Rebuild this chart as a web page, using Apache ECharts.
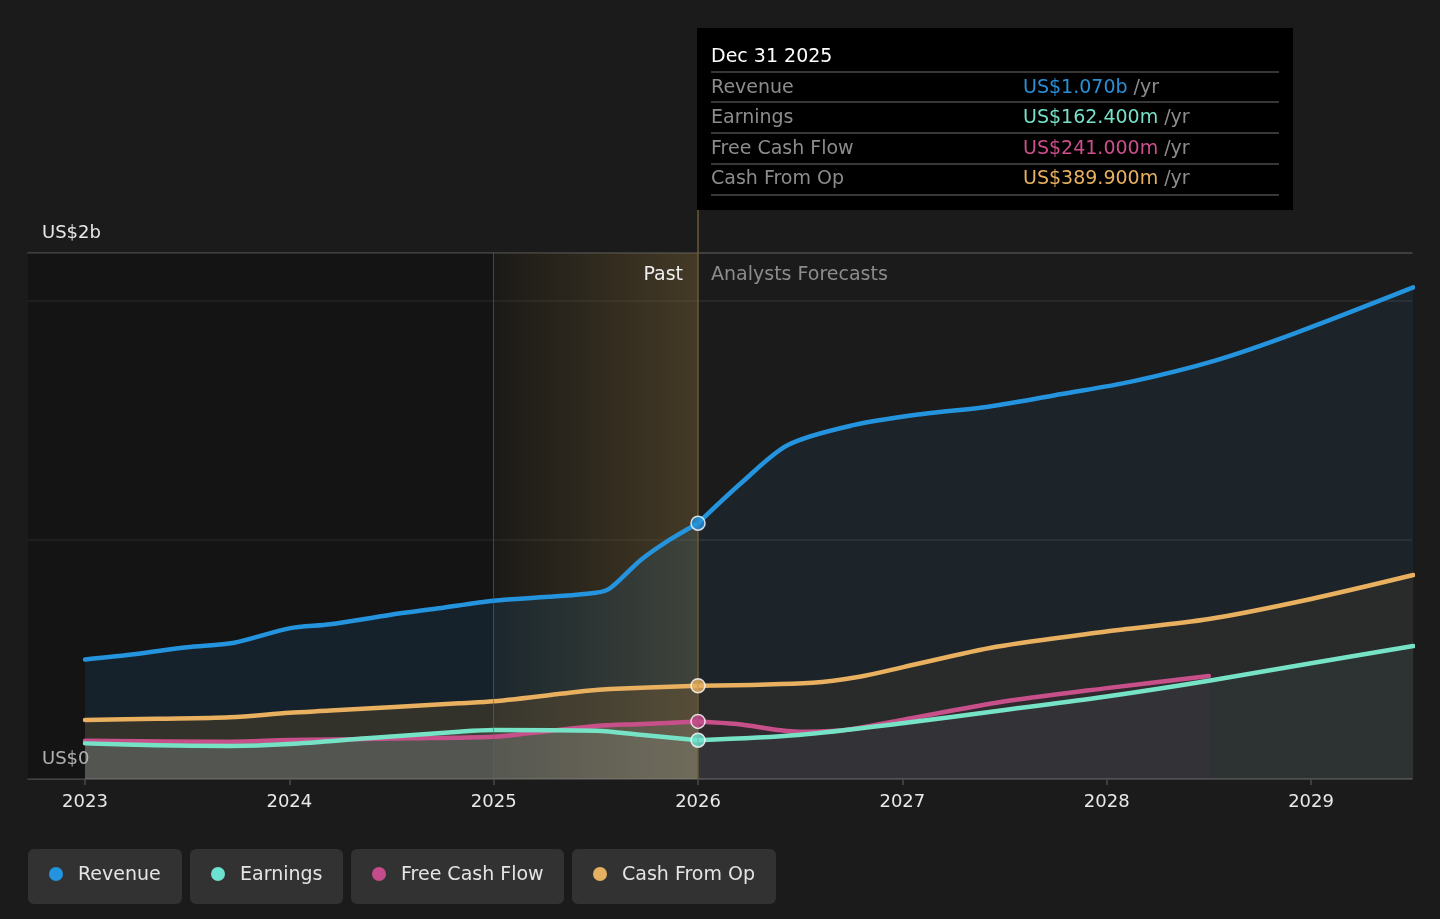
<!DOCTYPE html>
<html>
<head>
<meta charset="utf-8">
<title>Revenue, Earnings and Cash Flow</title>
<script src="https://cdn.jsdelivr.net/npm/echarts@6.0.0/dist/echarts.min.js"></script>
<style>
  html, body { margin: 0; padding: 0; background: #1b1b1b; }
  #chart { width: 1440px; height: 919px; }
</style>
</head>
<body>
<div id="chart"></div>
<script>
  // values in US$ billions, x = fractional year
  const revenue = [
    [2023.0, 0.50], [2023.25, 0.523], [2023.5, 0.551], [2023.73, 0.570], [2024.0, 0.630],
    [2024.2, 0.647], [2024.49, 0.686], [2024.73, 0.714], [2025.0, 0.746], [2025.27, 0.762],
    [2025.5, 0.779], [2025.57, 0.798], [2025.72, 0.916], [2025.86, 1.0], [2026.0, 1.07],
    [2026.21, 1.237], [2026.44, 1.397], [2026.76, 1.48], [2027.1, 1.527], [2027.42, 1.557],
    [2027.78, 1.61], [2028.12, 1.662], [2028.53, 1.75], [2028.92, 1.864], [2029.5, 2.056]
  ];
  const earnings = [
    [2023.0, 0.149], [2023.35, 0.141], [2023.71, 0.138], [2024.0, 0.146], [2024.38, 0.170],
    [2024.83, 0.198], [2025.0, 0.205], [2025.5, 0.202], [2025.73, 0.184], [2026.0, 0.1624],
    [2026.49, 0.184], [2027.0, 0.233], [2027.5, 0.289], [2027.99, 0.344], [2028.5, 0.411],
    [2029.0, 0.484], [2029.5, 0.556]
  ];
  const freeCashFlow = [
    [2023.0, 0.160], [2023.71, 0.156], [2024.0, 0.163], [2024.6, 0.170], [2025.0, 0.177],
    [2025.17, 0.191], [2025.5, 0.222], [2025.73, 0.230], [2026.0, 0.241], [2026.19, 0.230],
    [2026.49, 0.198], [2026.72, 0.205], [2027.0, 0.247], [2027.46, 0.319], [2027.99, 0.379],
    [2028.5, 0.431]
  ];
  const cashFromOp = [
    [2023.0, 0.247], [2023.35, 0.252], [2023.71, 0.258], [2024.0, 0.277], [2024.2, 0.286],
    [2024.83, 0.317], [2025.0, 0.325], [2025.46, 0.369], [2025.57, 0.376], [2026.0, 0.3899],
    [2026.56, 0.403], [2026.79, 0.428], [2027.0, 0.467], [2027.46, 0.553], [2027.99, 0.616],
    [2028.5, 0.669], [2029.0, 0.753], [2029.5, 0.853]
  ];
  const yearTicks = [2023, 2024, 2025, 2026, 2027, 2028, 2029];
  const yLabelValues = [0, 2.2];
  const yLabelTexts = ['US$0', 'US$2b'];
  const todayX = 2026.0;
  const bandStartX = 2025.0;
  const X_MIN = 2022.721;
  const X_MAX = 2029.494;
  const tooltipTitle = 'Dec 31 2025';

  const FONT = "'DejaVu Sans', sans-serif";

  const seriesDefs = [
    { name: 'Revenue', data: revenue, color: '#2494df', past: 'rgba(36,145,220,0.17)', fc: 'rgba(36,145,220,0.1)', unit: 'b' },
    { name: 'Cash From Op', data: cashFromOp, color: '#e8b05f', past: 'rgba(227,140,40,0.2)', fc: 'rgba(232,160,70,0.09)', unit: 'm' },
    { name: 'Free Cash Flow', data: freeCashFlow, color: '#c8508a', past: 'rgba(215,205,215,0.2)', fc: 'rgba(200,60,150,0.07)', unit: 'm' },
    { name: 'Earnings', data: earnings, color: '#76e3c6', past: 'rgba(195,235,222,0.13)', fc: 'rgba(110,225,195,0.08)', unit: 'm' }
  ];
  const legendOrder = ['Revenue', 'Earnings', 'Free Cash Flow', 'Cash From Op'];
  const legendColors = { 'Revenue': '#2394df', 'Earnings': '#6ee2d0', 'Free Cash Flow': '#c44c8c', 'Cash From Op': '#e6b062' };
  const tipColors = { 'Revenue': '#2a8fd6', 'Earnings': '#76e0c8', 'Free Cash Flow': '#cc4f8c', 'Cash From Op': '#e8b05f' };

  const chart = echarts.init(document.getElementById('chart'));

  const lineSeries = [];
  seriesDefs.forEach(d => {
    const pastData = d.data.filter(p => p[0] <= todayX);
    const fcData = d.data.filter(p => p[0] >= todayX);
    [[pastData, d.past], [fcData, d.fc]].forEach(([data, fill]) => {
      lineSeries.push({
        type: 'line',
        name: d.name,
        data,
        z: 2,
        smooth: 0.3,
        showSymbol: false,
        silent: true,
        lineStyle: { color: d.color, width: 4.5, cap: 'round', join: 'round' },
        areaStyle: { color: fill, origin: 'start' }
      });
    });
  });

  const valueAt = (data, x) => data.find(p => p[0] === x)[1];

  const dots = seriesDefs.map(d => ({
    value: [todayX, valueAt(d.data, todayX)],
    itemStyle: { color: legendColors[d.name] }
  }));

  const option = {
    backgroundColor: '#1b1b1b',
    animation: false,
    textStyle: { fontFamily: FONT },
    grid: { left: 28, right: 28, top: 253, bottom: 140 },
    xAxis: [
      {
        type: 'value',
        min: X_MIN,
        max: X_MAX,
        axisLine: { show: true, lineStyle: { color: '#4a4a4a', width: 1.5 } },
        axisTick: { show: true, customValues: yearTicks, length: 6, lineStyle: { color: '#4a4a4a', width: 1.5 } },
        axisLabel: {
          customValues: yearTicks,
          formatter: v => String(v),
          color: '#e8e8e8',
          fontSize: 18,
          fontFamily: FONT,
          margin: 14
        },
        splitLine: { show: false }
      },
      {
        type: 'value',
        position: 'top',
        min: X_MIN,
        max: X_MAX,
        axisLine: { show: true, lineStyle: { color: '#474747', width: 1.5 } },
        axisTick: { show: false },
        axisLabel: { show: false },
        splitLine: { show: false }
      }
    ],
    yAxis: {
      type: 'value',
      min: 0,
      max: 2.2,
      interval: 1,
      axisLine: { show: false },
      axisTick: { show: false },
      splitLine: { show: true, lineStyle: { color: '#2f2f2f', width: 1.5 } },
      axisLabel: {
        customValues: yLabelValues,
        formatter: v => yLabelTexts[yLabelValues.indexOf(v)] || '',
        inside: true,
        margin: 14,
        verticalAlign: 'bottom',
        padding: [0, 0, 11, 0],
        color: '#e8e8e8',
        fontSize: 18,
        fontFamily: FONT
      }
    },
    series: [
      {
        // darker past background
        type: 'line',
        data: [],
        z: 1,
        silent: true,
        markArea: {
          silent: true,
          itemStyle: { color: 'rgba(0,0,0,0.24)' },
          data: [[{ xAxis: X_MIN }, { xAxis: todayX }]]
        }
      },
      ...lineSeries,
      {
        // highlighted last year of the past
        type: 'line',
        data: [],
        z: 3,
        silent: true,
        markArea: {
          silent: true,
          itemStyle: {
            color: new echarts.graphic.LinearGradient(0, 0, 1, 0, [
              { offset: 0, color: 'rgba(210,170,90,0.04)' },
              { offset: 1, color: 'rgba(210,170,90,0.25)' }
            ])
          },
          data: [[{ xAxis: bandStartX }, { xAxis: todayX }]]
        },
        markLine: {
          silent: true,
          symbol: 'none',
          label: { show: false },
          data: [
            { xAxis: bandStartX, lineStyle: { color: 'rgba(110,100,80,0.6)', width: 1, type: 'solid' } },
            { xAxis: todayX, lineStyle: { color: '#6b5a36', width: 1.5, type: 'solid' } }
          ]
        }
      },
      {
        type: 'scatter',
        z: 5,
        silent: true,
        symbol: 'circle',
        symbolSize: 14,
        itemStyle: { borderColor: '#ffffff', borderWidth: 1.5 },
        data: dots
      }
    ]
  };

  chart.setOption(option);

  // overlays: tooltip panel, past / forecast labels, legend
  const xToday = chart.convertToPixel({ xAxisIndex: 0 }, todayX);
  const yTop = chart.convertToPixel({ yAxisIndex: 0 }, 2.2);

  const fmt = d => {
    const v = valueAt(d.data, todayX);
    return d.unit === 'b' ? 'US$' + v.toFixed(3) + 'b' : 'US$' + (v * 1000).toFixed(3) + 'm';
  };

  const tipLeft = xToday - 1;
  const tipTop = 28;
  const rowY = [88, 118, 149, 179];
  const sepY = [72, 102, 133, 164, 195];
  const tipRows = legendOrder.map(n => seriesDefs.find(d => d.name === n));

  const graphics = [
    { type: 'line', silent: true, z: 10, shape: { x1: xToday, y1: tipTop + 182, x2: xToday, y2: yTop }, style: { stroke: '#6b5a36', lineWidth: 1.5 } },
    { type: 'rect', silent: true, z: 10, shape: { x: tipLeft, y: tipTop, width: 596, height: 182 }, style: { fill: '#000000' } },
    { type: 'text', silent: true, z: 11, x: tipLeft + 14, y: 57, style: { text: tooltipTitle, fill: '#ffffff', font: '19px ' + FONT, verticalAlign: 'middle' } }
  ];
  sepY.forEach(y => {
    graphics.push({ type: 'line', silent: true, z: 11, shape: { x1: tipLeft + 14, y1: y, x2: tipLeft + 582, y2: y }, style: { stroke: '#4a4a4a', lineWidth: 1.5 } });
  });
  tipRows.forEach((d, i) => {
    graphics.push({ type: 'text', silent: true, z: 11, x: tipLeft + 14, y: rowY[i], style: { text: d.name, fill: '#8c8c8c', font: '19px ' + FONT, verticalAlign: 'middle' } });
    graphics.push({
      type: 'text', silent: true, z: 11, x: tipLeft + 326, y: rowY[i],
      style: {
        text: '{v|' + fmt(d) + '} {u|/yr}',
        verticalAlign: 'middle',
        font: '19px ' + FONT,
        rich: {
          v: { fill: tipColors[d.name], font: '19px ' + FONT },
          u: { fill: '#8c8c8c', font: '19px ' + FONT }
        }
      }
    });
  });

  graphics.push({ type: 'text', silent: true, z: 11, x: xToday - 15, y: 275, style: { text: 'Past', fill: '#eeeeee', font: '19px ' + FONT, align: 'right', verticalAlign: 'middle' } });
  graphics.push({ type: 'text', silent: true, z: 11, x: xToday + 13, y: 275, style: { text: 'Analysts Forecasts', fill: '#8c8c8c', font: '19px ' + FONT, align: 'left', verticalAlign: 'middle' } });

  const legendBoxes = [[28, 154], [190, 153], [351, 213], [572, 204]];
  legendOrder.forEach((n, i) => {
    const [bx, bw] = legendBoxes[i];
    graphics.push({ type: 'rect', silent: true, z: 11, shape: { x: bx, y: 849, width: bw, height: 55, r: 6 }, style: { fill: '#323232' } });
    graphics.push({ type: 'circle', silent: true, z: 12, shape: { cx: bx + 28, cy: 874, r: 7 }, style: { fill: legendColors[n] } });
    graphics.push({ type: 'text', silent: true, z: 12, x: bx + 50, y: 875, style: { text: n, fill: '#e4e4e4', font: '19px ' + FONT, verticalAlign: 'middle' } });
  });

  chart.setOption({ graphic: graphics });
</script>
</body>
</html>
